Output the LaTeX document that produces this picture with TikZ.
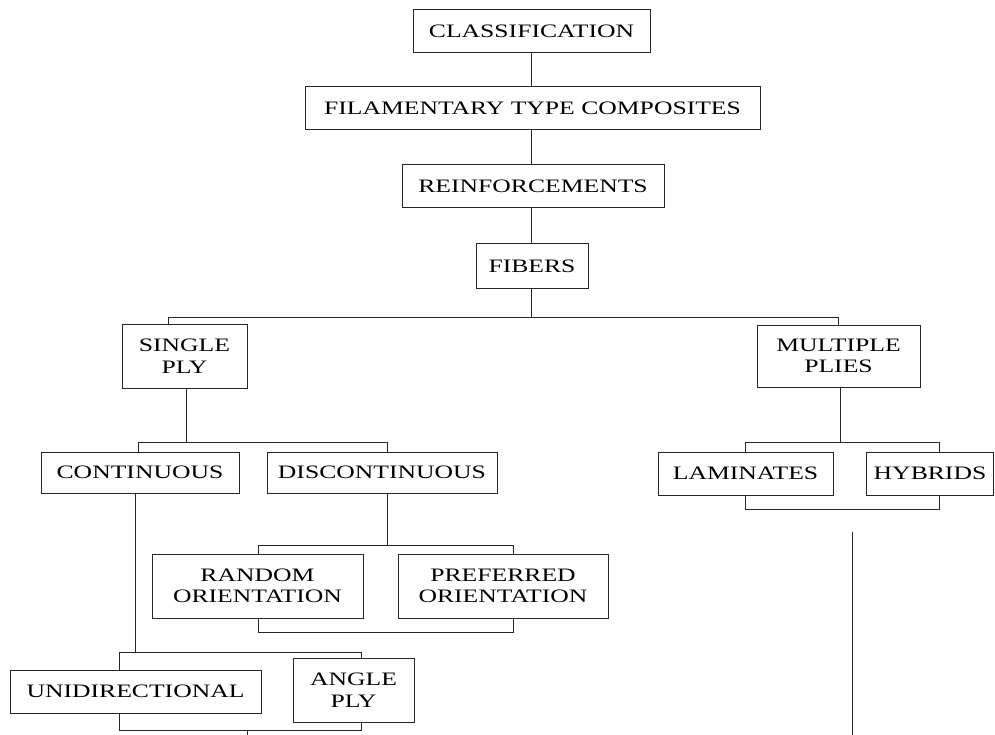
\documentclass[tikz,border=0pt]{standalone}
\usepackage{fontspec}
\setmainfont{Liberation Serif}[FakeStretch=1.35]
\begin{document}
\begin{tikzpicture}[x=1pt,y=-1pt,
  box/.style={draw=black!85,line width=1pt,rectangle,inner sep=0pt,align=center,
    font=\fontsize{19}{21.5}\selectfont,text=black},
  link/.style={draw=black!85,line width=1pt}]
\useasboundingbox (0,0) rectangle (995,735);
% nodes
\node[box,minimum width=237pt,minimum height=43pt] (cls) at (531.5,31.5) {CLASSIFICATION};
\node[box,minimum width=455pt,minimum height=43pt] (fil) at (532.5,108.5) {FILAMENTARY TYPE COMPOSITES};
\node[box,minimum width=262pt,minimum height=43pt] (rein) at (533,186.5) {REINFORCEMENTS};
\node[box,minimum width=112pt,minimum height=44pt] (fib) at (532,266) {FIBERS};
\node[box,minimum width=125pt,minimum height=64pt] (sp) at (184.5,356) {SINGLE\\PLY};
\node[box,minimum width=163pt,minimum height=62pt] (mp) at (838.5,356) {MULTIPLE\\PLIES};
\node[box,minimum width=198pt,minimum height=41pt] (cont) at (140,472.5) {CONTINUOUS};
\node[box,minimum width=230pt,minimum height=41pt] (disc) at (382,472.5) {DISCONTINUOUS};
\node[box,minimum width=175pt,minimum height=43pt] (lam) at (745.5,473.5) {LAMINATES};
\node[box,minimum width=127pt,minimum height=43pt] (hyb) at (930,473.5) {HYBRIDS};
\node[box,minimum width=211pt,minimum height=64pt] (rand) at (257.5,586) {RANDOM\\ORIENTATION};
\node[box,minimum width=210pt,minimum height=64pt] (pref) at (503,586) {PREFERRED\\ORIENTATION};
\node[box,minimum width=251pt,minimum height=43pt] (uni) at (135.5,691.5) {UNIDIRECTIONAL};
\node[box,minimum width=121pt,minimum height=64pt] (ang) at (353.5,690) {ANGLE\\PLY};
% free-end coordinates
\coordinate (stub) at (247,735);
\coordinate (ltop) at (852,532);
\coordinate (lbot) at (852,735);
% connectors
\draw[link] (531,0|-cls.south) -- (531,0|-fil.north);
\draw[link] (531,0|-fil.south) -- (531,0|-rein.north);
\draw[link] (531,0|-rein.south) -- (531,0|-fib.north);
\draw[link] (531,0|-fib.south) -- (531,317);
\draw[link] (168,0|-sp.north) -- (168,317) -- (838,317) -- (838,0|-mp.north);
% single ply
\draw[link] (186,0|-sp.south) -- (186,442);
\draw[link] (138,0|-cont.north) -- (138,442) -- (387,442) -- (387,0|-disc.north);
% multiple plies
\draw[link] (840,0|-mp.south) -- (840,442);
\draw[link] (745,0|-lam.north) -- (745,442) -- (939,442) -- (939,0|-hyb.north);
\draw[link] (745,0|-lam.south) -- (745,509) -- (939,509) -- (939,0|-hyb.south);
\draw[link] (ltop) -- (lbot);
% discontinuous
\draw[link] (387,0|-disc.south) -- (387,545);
\draw[link] (258,0|-rand.north) -- (258,545) -- (513,545) -- (513,0|-pref.north);
\draw[link] (258,0|-rand.south) -- (258,632) -- (513,632) -- (513,0|-pref.south);
% continuous
\draw[link] (135,0|-cont.south) -- (135,652);
\draw[link] (119,0|-uni.north) -- (119,652) -- (361,652) -- (361,0|-ang.north);
\draw[link] (119,0|-uni.south) -- (119,730) -- (361,730) -- (361,0|-ang.south);
\draw[link] (247,730) -- (stub);
\end{tikzpicture}
\end{document}
